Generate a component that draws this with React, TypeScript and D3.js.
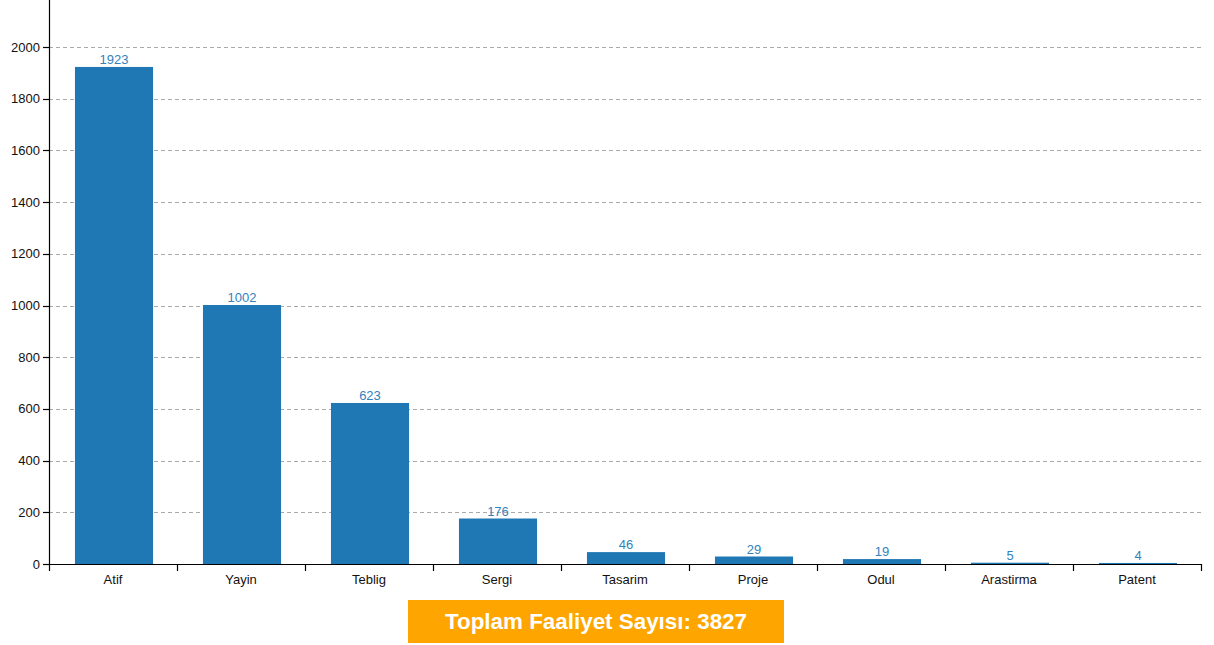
import React from "react";
import * as d3 from "d3";

const categories = ["Atif", "Yayin", "Teblig", "Sergi", "Tasarim", "Proje", "Odul", "Arastirma", "Patent"];
const values = [1923, 1002, 623, 176, 46, 29, 19, 5, 4];
const yTicks = [0, 200, 400, 600, 800, 1000, 1200, 1400, 1600, 1800, 2000];
const totalLabel = "Toplam Faaliyet Sayısı: 3827";

const W = 1214;
const H = 645;
const left = 49;
const right = 1201;
const top = 0;
const bottom = 564;

export default function App() {
  const bands = d3.scaleBand<string>().domain(categories).range([left, right]);
  const barW = bands.bandwidth() * 0.61;
  const bx = (c: string) => (bands(c) as number) + (bands.bandwidth() - barW) / 2 + 1;
  const y = d3.scaleLinear().domain([0, 2182]).range([bottom, top]);
  const font = "'Liberation Sans', Arial, sans-serif";
  const boundaries = [left, ...categories.map((c) => (bands(c) as number) + bands.bandwidth())];
  const total = d3.sum(values);
  return (
    <svg width={W} height={H} style={{ position: "absolute", left: 0, top: 0, display: "block" }} fontFamily={font}>
      {yTicks.filter((t) => t > 0).map((t) => (
        <line key={"g" + t} x1={left} x2={right} y1={Math.round(y(t)) + 0.5} y2={Math.round(y(t)) + 0.5} stroke="#aaa" strokeDasharray="4,3" strokeWidth={1} />
      ))}
      {categories.map((c, i) => (
        <g key={c}>
          <rect x={bx(c)} y={y(values[i])} width={barW} height={bottom - y(values[i])} fill="#1f77b4" />
          <text x={bx(c) + barW / 2} y={y(values[i]) - 3} textAnchor="middle" fontSize={13} fill="#3182bd">{values[i]}</text>
          <text x={(bands(c) as number) + bands.bandwidth() / 2} y={bottom + 20} textAnchor="middle" fontSize={13} fill="#111">{c}</text>
        </g>
      ))}
      <line x1={left} x2={right} y1={bottom + 0.5} y2={bottom + 0.5} stroke="#000" strokeWidth={1.2} />
      {boundaries.map((b, i) => (
        <line key={"xt" + i} x1={Math.round(b) + 0.5} x2={Math.round(b) + 0.5} y1={bottom} y2={bottom + 7} stroke="#000" strokeWidth={1.2} />
      ))}
      <line x1={left + 0.5} x2={left + 0.5} y1={top} y2={bottom} stroke="#000" strokeWidth={1.2} />
      {yTicks.map((t) => (
        <g key={"yt" + t}>
          <line x1={left - 6} x2={left} y1={Math.round(y(t)) + 0.5} y2={Math.round(y(t)) + 0.5} stroke="#000" strokeWidth={1.2} />
          <text x={left - 9} y={y(t) + 4.5} textAnchor="end" fontSize={13} fill="#111">{t}</text>
        </g>
      ))}
      <rect x={408} y={600} width={376} height={43} fill="#FFA500" />
      <text x={596} y={629} textAnchor="middle" fontSize={22.4} fontWeight="bold" fill="#fff">{totalLabel.replace(/\d+$/, String(total))}</text>
    </svg>
  );
}
